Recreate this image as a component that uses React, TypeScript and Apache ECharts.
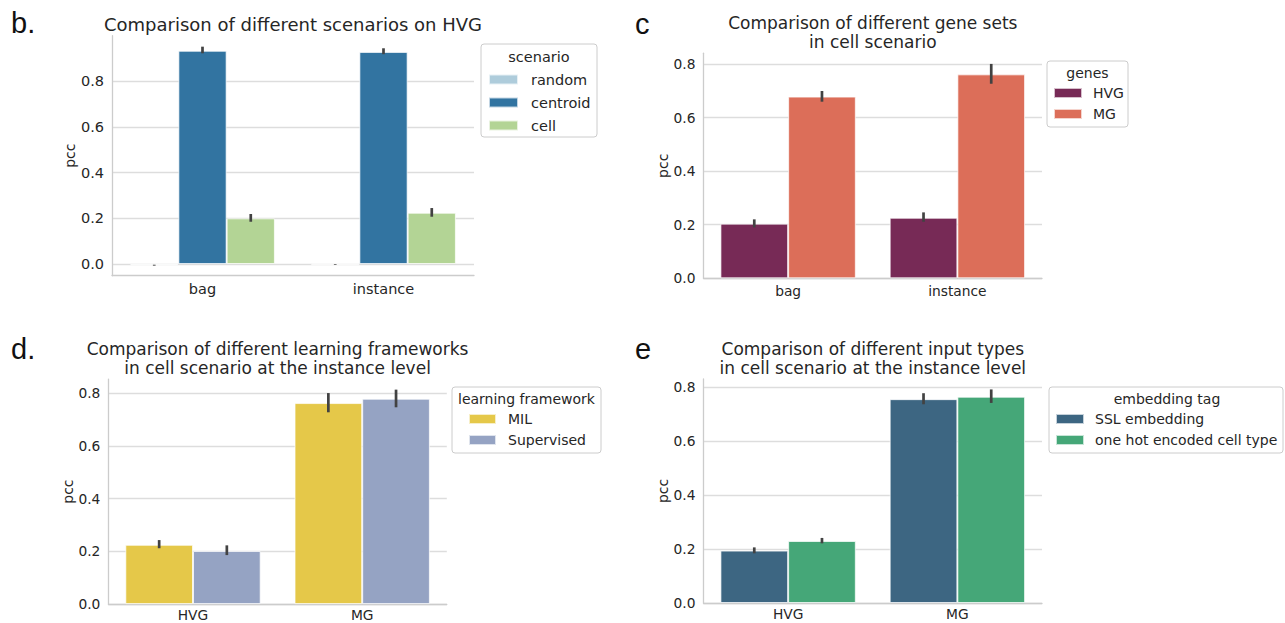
import React, { useEffect, useRef } from 'react';
import * as echarts from 'echarts';

// ---------- data ----------
const yTicks = [0, 0.2, 0.4, 0.6, 0.8];

// b. scenarios on HVG
const scenarioCategories = ['bag', 'instance'];
const scenarioNames = ['random', 'centroid', 'cell'];
const randomMean = [-0.005, -0.002];
const randomLow = [-0.007, -0.003];
const randomHigh = [-0.003, 0.0];
const centroidMean = [0.933, 0.928];
const centroidLow = [0.922, 0.918];
const centroidHigh = [0.951, 0.944];
const cellMean = [0.2, 0.2245];
const cellLow = [0.185, 0.207];
const cellHigh = [0.219, 0.245];

// c. gene sets in cell scenario
const geneCategories = ['bag', 'instance'];
const geneNames = ['HVG', 'MG'];
const geneHvgMean = [0.204, 0.226];
const geneHvgLow = [0.19, 0.211];
const geneHvgHigh = [0.22, 0.246];
const geneMgMean = [0.678, 0.761];
const geneMgLow = [0.659, 0.726];
const geneMgHigh = [0.699, 0.8];

// d. learning frameworks
const frameworkCategories = ['HVG', 'MG'];
const frameworkNames = ['MIL', 'Supervised'];
const milMean = [0.225, 0.763];
const milLow = [0.212, 0.728];
const milHigh = [0.243, 0.801];
const supervisedMean = [0.2015, 0.7795];
const supervisedLow = [0.186, 0.747];
const supervisedHigh = [0.223, 0.814];

// e. input types
const inputCategories = ['HVG', 'MG'];
const inputNames = ['SSL embedding', 'one hot encoded cell type'];
const sslMean = [0.194, 0.755];
const sslLow = [0.184, 0.736];
const sslHigh = [0.206, 0.777];
const oneHotMean = [0.2296, 0.764];
const oneHotLow = [0.221, 0.741];
const oneHotHigh = [0.241, 0.791];

// ---------- styling ----------
const FONT = 'DejaVu Sans';
const LETTER_FONT = 'Liberation Sans';
const TEXT = '#262626';
const ERR = '#424242';
const SPINE = '#cccccc';
const GRIDC = '#dddddd';

type S = { name: string; color: string; mean: number[]; low: number[]; high: number[] };

const panels = [
  {
    grid: { left: 112, top: 35.7, width: 362, height: 240 },
    ymin: -0.051, ymax: 0.999, cats: scenarioCategories, tick: 14.5, nameGap: 34, xMargin: 6,
    series: [
      { name: scenarioNames[0], color: '#aeccdb', mean: randomMean, low: randomLow, high: randomHigh },
      { name: scenarioNames[1], color: '#3274a1', mean: centroidMean, low: centroidLow, high: centroidHigh },
      { name: scenarioNames[2], color: '#b3d495', mean: cellMean, low: cellLow, high: cellHigh },
    ] as S[],
    legend: { left: 488, top: 72, gap: 8, w: 29, pad: 8, font: 14.5 },
    box: { x: 481, y: 44, w: 116, h: 93 },
    ltitle: { text: 'scenario', x: 539, y: 57, font: 14.5 },
  },
  {
    grid: { left: 703.5, top: 53.2, width: 338.5, height: 225.1 },
    ymin: 0, ymax: 0.84, cats: geneCategories, tick: 13.8, nameGap: 34, xMargin: 6,
    series: [
      { name: geneNames[0], color: '#772a56', mean: geneHvgMean, low: geneHvgLow, high: geneHvgHigh },
      { name: geneNames[1], color: '#dc6e59', mean: geneMgMean, low: geneMgLow, high: geneMgHigh },
    ] as S[],
    legend: { left: 1053, top: 86, gap: 7, w: 28, pad: 6, font: 14 },
    box: { x: 1047, y: 61, w: 81, h: 66 },
    ltitle: { text: 'genes', x: 1087.5, y: 73, font: 14 },
  },
  {
    grid: { left: 108.4, top: 379.1, width: 338.4, height: 225 },
    ymin: 0, ymax: 0.854, cats: frameworkCategories, tick: 13.8, nameGap: 32, xMargin: 4,
    series: [
      { name: frameworkNames[0], color: '#e5c849', mean: milMean, low: milLow, high: milHigh },
      { name: frameworkNames[1], color: '#95a3c3', mean: supervisedMean, low: supervisedLow, high: supervisedHigh },
    ] as S[],
    legend: { left: 468, top: 412, gap: 7, w: 27, pad: 7, font: 14 },
    box: { x: 452, y: 387, w: 149, h: 66 },
    ltitle: { text: 'learning framework', x: 526.5, y: 399, font: 14 },
  },
  {
    grid: { left: 703.5, top: 378.9, width: 338.5, height: 224.1 },
    ymin: 0, ymax: 0.83, cats: inputCategories, tick: 13.8, nameGap: 34, xMargin: 4,
    series: [
      { name: inputNames[0], color: '#3d6682', mean: sslMean, low: sslLow, high: sslHigh },
      { name: inputNames[1], color: '#45a778', mean: oneHotMean, low: oneHotLow, high: oneHotHigh },
    ] as S[],
    legend: { left: 1055, top: 412, gap: 7, w: 28, pad: 6, font: 14 },
    box: { x: 1049, y: 387, w: 234, h: 66 },
    ltitle: { text: 'embedding tag', x: 1167, y: 399, font: 14 },
  },
];

const titles = [
  { lines: ['Comparison of different scenarios on HVG'], x: 293, y: [24.3], font: 18 },
  { lines: ['Comparison of different gene sets', 'in cell scenario'], x: 872.8, y: [23.4, 42.4], font: 17 },
  { lines: ['Comparison of different learning frameworks', 'in cell scenario at the instance level'], x: 277.6, y: [349, 368], font: 17 },
  { lines: ['Comparison of different input types', 'in cell scenario at the instance level'], x: 872.8, y: [349, 368], font: 17 },
];

const letters = [
  { text: 'b.', x: 11, y: 23.3 },
  { text: 'c', x: 635, y: 24.3 },
  { text: 'd.', x: 11, y: 349 },
  { text: 'e', x: 635, y: 349.3 },
];

function buildOption() {
  const grid: any[] = [];
  const xAxis: any[] = [];
  const yAxis: any[] = [];
  const series: any[] = [];
  const legend: any[] = [];
  const graphic: any[] = [];

  panels.forEach((p, gi) => {
    grid.push({ ...p.grid, containLabel: false, outerBoundsMode: 'none' });
    xAxis.push({
      type: 'category', gridIndex: gi, data: p.cats,
      axisLine: { show: true, onZero: false, lineStyle: { color: SPINE, width: 1.3 } },
      axisTick: { show: false },
      axisLabel: { margin: p.xMargin, fontSize: p.tick, color: TEXT, fontFamily: FONT },
      splitLine: { show: false },
    });
    yAxis.push({
      type: 'value', gridIndex: gi, min: p.ymin, max: p.ymax,
      axisLine: { show: true, lineStyle: { color: SPINE, width: 1.3 } },
      axisTick: { show: false, customValues: yTicks },
      axisLabel: {
        customValues: yTicks, margin: 8, fontSize: p.tick, color: TEXT, fontFamily: FONT,
        formatter: (v: number) => v.toFixed(1),
      },
      splitLine: { show: true, lineStyle: { color: GRIDC, width: 1.3 } },
      name: 'pcc', nameLocation: 'middle', nameGap: p.nameGap,
      nameTextStyle: { fontSize: 14, color: TEXT, fontFamily: FONT },
    });
    const n = p.series.length;
    p.series.forEach((s) => {
      series.push({
        type: 'bar', name: s.name, xAxisIndex: gi, yAxisIndex: gi, data: s.mean,
        barGap: '0%', barCategoryGap: '20%', z: 2,
        itemStyle: { color: s.color, borderColor: 'rgba(255,255,255,0.7)', borderWidth: 1 },
        emphasis: { disabled: true },
      });
    });
    p.series.forEach((s, si) => {
      series.push({
        type: 'custom', xAxisIndex: gi, yAxisIndex: gi, silent: true, z: 10,
        data: s.low.map((lo, k) => [k, lo, s.high[k]]),
        encode: { x: 0, y: [1, 2] },
        renderItem: (params: any, api: any) => {
          const cat = api.value(0);
          const a = api.coord([cat, api.value(1)]);
          const b = api.coord([cat, api.value(2)]);
          const band = api.size([1, 0])[0];
          const gw = band * 0.8;
          const bw = gw / n;
          const x = a[0] - gw / 2 + bw * (si + 0.5);
          return {
            type: 'line',
            shape: { x1: x, y1: a[1], x2: x, y2: b[1] },
            style: { stroke: ERR, lineWidth: 2.7 },
          };
        },
      });
    });
    legend.push({
      data: p.series.map((s) => s.name),
      left: p.legend.left, top: p.legend.top, orient: 'vertical',
      itemWidth: p.legend.w, itemHeight: 10, itemGap: p.legend.gap, padding: 0,
      icon: 'rect', selectedMode: false,
      textStyle: { fontSize: p.legend.font, lineHeight: 14, color: TEXT, fontFamily: FONT, padding: [0, 0, 0, p.legend.pad] },
    });
    graphic.push({
      type: 'rect', z: -1, silent: true,
      shape: { x: p.box.x, y: p.box.y, width: p.box.w, height: p.box.h, r: 3 },
      style: { fill: '#ffffff', stroke: '#cccccc', lineWidth: 1 },
    });
    graphic.push({
      type: 'text', silent: true, z: 5,
      style: {
        text: p.ltitle.text, x: p.ltitle.x, y: p.ltitle.y, textAlign: 'center', textVerticalAlign: 'middle',
        fontSize: p.ltitle.font, fontFamily: FONT, fill: TEXT,
      },
    });
  });

  titles.forEach((t) => {
    t.lines.forEach((line, li) => {
      graphic.push({
        type: 'text', silent: true,
        style: {
          text: line, x: t.x, y: t.y[li], textAlign: 'center', textVerticalAlign: 'middle',
          fontSize: t.font, fontFamily: FONT, fill: TEXT,
        },
      });
    });
  });
  letters.forEach((l) => {
    graphic.push({
      type: 'text', silent: true,
      style: {
        text: l.text, x: l.x, y: l.y, textAlign: 'left', textVerticalAlign: 'middle',
        fontSize: 29, fontFamily: LETTER_FONT, fill: '#111111',
      },
    });
  });

  return {
    animation: false,
    backgroundColor: '#ffffff',
    grid, xAxis, yAxis, series, legend, graphic,
  };
}

export default function App() {
  const ref = useRef<HTMLDivElement>(null);
  useEffect(() => {
    const chart = echarts.init(ref.current!, null, { renderer: 'svg' });
    chart.setOption(buildOption() as any);
    return () => chart.dispose();
  }, []);
  return (
    <div
      ref={ref}
      style={{ position: 'fixed', left: 0, top: 0, width: 1285, height: 623, background: '#ffffff' }}
    />
  );
}
